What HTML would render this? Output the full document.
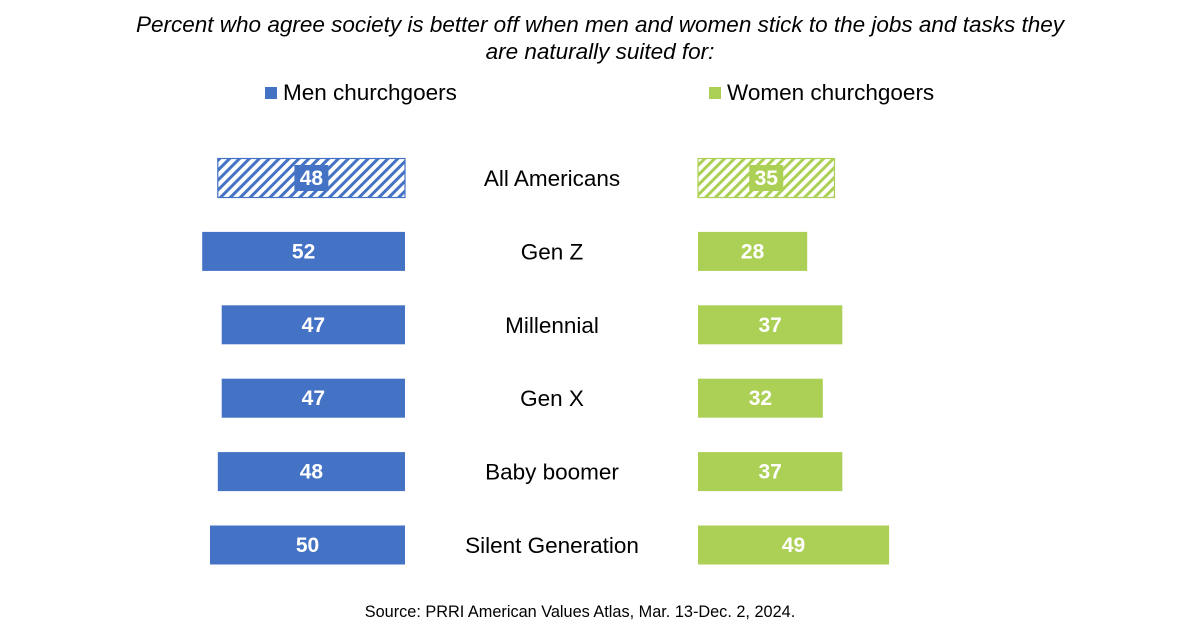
<!DOCTYPE html>
<html><head><meta charset="utf-8"><style>
body{margin:0;background:#fff;width:1200px;height:626px;overflow:hidden;font-family:"Liberation Sans",Arial,sans-serif}
</style></head><body>
<svg id="chart" width="1200" height="626" xmlns="http://www.w3.org/2000/svg" font-family="Liberation Sans, Arial, sans-serif">
<defs>
<pattern id="hb" patternUnits="userSpaceOnUse" width="7" height="7" patternTransform="rotate(45)"><rect width="3" height="7" fill="#4472c4"/></pattern>
<pattern id="hg" patternUnits="userSpaceOnUse" width="7" height="7" patternTransform="rotate(45)"><rect width="3" height="7" fill="#acd055"/></pattern>
</defs>
<text x="600" y="32" text-anchor="middle" font-size="22.5" font-style="italic" fill="#000">Percent who agree society is better off when men and women stick to the jobs and tasks they</text>
<text x="600" y="59" text-anchor="middle" font-size="22.5" font-style="italic" fill="#000">are naturally suited for:</text>
<g><rect x="265" y="87" width="12" height="12" fill="#4472c4"/><text x="283" y="100" font-size="22.5">Men churchgoers</text></g>
<g><rect x="709" y="87" width="12" height="12" fill="#acd055"/><text x="727" y="100" font-size="22.5">Women churchgoers</text></g>
<g id="bars"></g>
<text x="580" y="617" text-anchor="middle" font-size="16.3">Source: PRRI American Values Atlas, Mar. 13-Dec. 2, 2024.</text>
</svg>
<script>
const categories=["All Americans","Gen Z","Millennial","Gen X","Baby boomer","Silent Generation"];
const menValues=[48,52,47,47,48,50];
const womenValues=[35,28,37,32,37,49];
const NS="http://www.w3.org/2000/svg";
const g=document.getElementById('bars');
const scale=3.9, menRight=405, womenLeft=698, y0=178, step=73.4, bh=39;
function yPos(i){return y0+i*step;}
function mk(t,a){const e=document.createElementNS(NS,t);for(const k in a)e.setAttribute(k,a[k]);return e;}
categories.forEach((c,i)=>{
  const y=yPos(i), hatched=i===0;
  const mw=menValues[i]*scale, ww=womenValues[i]*scale;
  const mr=mk('rect',{x:menRight-mw,y:y-bh/2,width:mw,height:bh,fill:hatched?'url(#hb)':'#4472c4',stroke:hatched?'#4472c4':'none','stroke-width':1.2});
  
  
  g.appendChild(mr);
  const wr=mk('rect',{x:womenLeft,y:y-bh/2,width:ww,height:bh,fill:hatched?'url(#hg)':'#acd055',stroke:hatched?'#acd055':'none','stroke-width':1.2});
  
  
  g.appendChild(wr);
  const mx=menRight-mw/2, wx=womenLeft+ww/2;
  if(hatched){
    const b1=mk('rect',{x:mx-17,y:y-13,width:34,height:26,fill:'#4472c4'});
    
    
    g.appendChild(b1);
    const b2=mk('rect',{x:wx-17,y:y-13,width:34,height:26,fill:'#acd055'});
    
    
    g.appendChild(b2);
  }
  const mt=mk('text',{x:mx,y:y+7,'text-anchor':'middle','font-size':21,'font-weight':'bold',fill:'#fff'});
  mt.textContent=menValues[i];
  
  
  g.appendChild(mt);
  const wt=mk('text',{x:wx,y:y+7,'text-anchor':'middle','font-size':21,'font-weight':'bold',fill:'#fff'});
  wt.textContent=womenValues[i];
  
  
  g.appendChild(wt);
  const ct=mk('text',{x:552,y:y+8,'text-anchor':'middle','font-size':22.5,fill:'#000'});
  ct.textContent=c;
  
  
  g.appendChild(ct);
});
</script>
</body></html>
